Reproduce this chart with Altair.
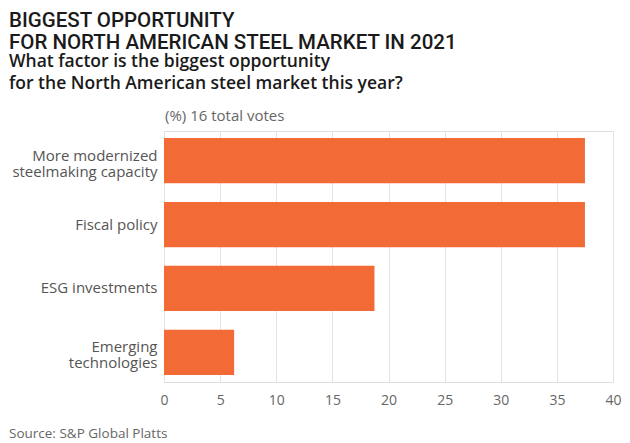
import altair as alt
import pandas as pd

categories = ["More modernized\nsteelmaking capacity", "Fiscal policy", "ESG investments", "Emerging\ntechnologies"]
values = [37.5, 37.5, 18.75, 6.25]
x_ticks = [0, 5, 10, 15, 20, 25, 30, 35, 40]

title_lines = ["BIGGEST OPPORTUNITY", "FOR NORTH AMERICAN STEEL MARKET IN 2021"]
subtitle_lines = ["What factor is the biggest opportunity", "for the North American steel market this year?"]
unit_note = "(%) 16 total votes"
source_note = "Source: S&P Global Platts"

df = pd.DataFrame({"factor": categories, "value": values})

W, H = 449, 251
TFONT = "Roboto"
FONT = "Open Sans"
LX = -155

bars = alt.Chart(df).mark_bar(color="#F26A36").encode(
    x=alt.X("value:Q", scale=alt.Scale(domain=[0, 40], nice=False),
            axis=alt.Axis(values=x_ticks, title=None, grid=True, gridColor="#e3e3e3",
                          domain=False, ticks=False, labelFontSize=14, labelColor="#666666",
                          labelFont=FONT, labelPadding=11, labelFlush=False)),
    y=alt.Y("factor:N", sort=categories,
            scale=alt.Scale(paddingInner=0.29, paddingOuter=0.11),
            axis=alt.Axis(title=None, domain=False, ticks=False, labelFontSize=15,
                          labelColor="#555555", labelFont=FONT, labelPadding=7,
                          labelLineHeight=16, labelExpr="split(datum.label, '\\n')",
                          labelOffset={"condition": {"test": "indexof(datum.label, '\\n') >= 0", "value": -5}, "value": 0},
                          labelLimit=300)),
)

def txt(text, x, y, size, color, weight="normal", lh=21, font=FONT):
    return alt.Chart(df.head(1)).mark_text(
        text=text, align="left", baseline="alphabetic", fontSize=size, font=font,
        fontWeight=weight, color=color, lineHeight=lh
    ).encode(x=alt.value(x), y=alt.value(y))

layers = alt.layer(
    bars,
    txt(title_lines, LX, -104, 20.5, "#1a1a1a", 500, 21.5, TFONT),
    txt(subtitle_lines, LX, -64, 17.5, "#1a1a1a", 600, 21.5),
    txt(unit_note, 1, -10, 15, "#666666"),
    txt(source_note, LX, 307, 13.5, "#666666"),
).properties(
    width=W, height=H,
    autosize=alt.AutoSizeParams(type="none"),
    padding={"left": 156, "top": 123, "right": 9, "bottom": 61},
).configure_view(stroke=None).configure(background="white")

layers.save("out.html", embed_options={"renderer": "svg", "actions": False})
